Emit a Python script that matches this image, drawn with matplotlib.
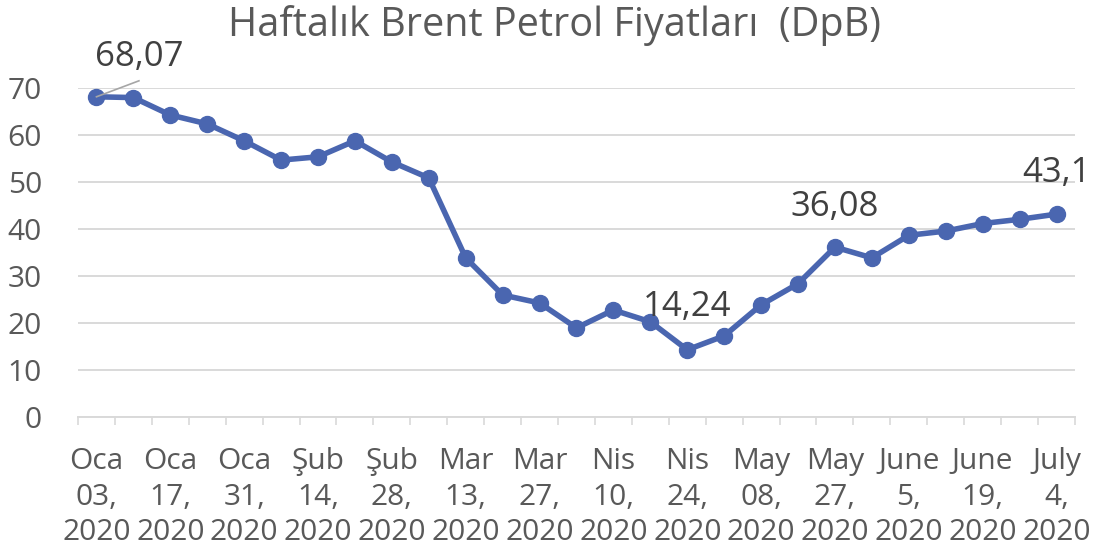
import matplotlib.pyplot as plt
import numpy as np

plt.rcParams['font.family'] = ['Open Sans', 'DejaVu Sans']

# weekly Brent prices (USD/barrel)
prices = [68.07, 67.9, 64.2, 62.3, 58.7, 54.6, 55.3, 58.7, 54.2, 50.8,
          33.8, 25.9, 24.2, 18.9, 22.7, 20.2, 14.24, 17.2, 23.8, 28.3,
          36.08, 33.8, 38.6, 39.5, 41.1, 42.0, 43.1]
shown_labels = ['Oca\n03,\n2020', 'Oca\n17,\n2020', 'Oca\n31,\n2020', 'Şub\n14,\n2020',
                'Şub\n28,\n2020', 'Mar\n13,\n2020', 'Mar\n27,\n2020', 'Nis\n10,\n2020',
                'Nis\n24,\n2020', 'May\n08,\n2020', 'May\n27,\n2020', 'June\n5,\n2020',
                'June\n19,\n2020', 'July\n4,\n2020']
labelled = {0: '68,07', 16: '14,24', 20: '36,08', 26: '43,1'}

grey = '#595959'
blue = '#4A66B0'
x = np.arange(len(prices))

fig = plt.figure(figsize=(10.94, 5.58), dpi=100)
ax = fig.add_axes([0.0713, 0.2532, 0.9113, 0.5896])

ax.plot(x, prices, color=blue, lw=4, marker='o', ms=11.5, zorder=3, clip_on=False)

ax.set_xlim(-0.5, len(prices) - 0.5)
ax.set_ylim(0, 70)
ax.set_yticks(range(0, 71, 10))
ax.grid(axis='y', color='#D9D9D9', lw=1.4)
ax.set_axisbelow(True)
for s in ['top', 'right', 'left']:
    ax.spines[s].set_visible(False)
ax.spines['bottom'].set_color('#D9D9D9')
ax.spines['bottom'].set_linewidth(1.4)

ax.set_xticks(x[::2])
ax.set_xticklabels(shown_labels, linespacing=1.3)
ax.set_xticks(np.arange(-0.5, len(prices)), minor=True)
ax.tick_params(axis='x', which='major', length=0, pad=22, labelsize=21.5, labelcolor=grey)
ax.tick_params(axis='x', which='minor', length=6, width=1.2, color='#D9D9D9')
ax.tick_params(axis='y', length=0, pad=26, labelsize=21.5, labelcolor=grey)

# data labels
offsets = {0: (1.15, 8.5), 16: (0, 9.0), 20: (0, 8.5), 26: (0, 8.8)}
for i, txt in labelled.items():
    dx, dy = offsets[i]
    ax.text(x[i] + dx, prices[i] + dy, txt, ha='center', va='center',
            fontsize=25, color='#404040', clip_on=False, zorder=4)
ax.plot([x[0], x[0] + 1.15], [prices[0], prices[0] + 3.4], color='#A6A6A6',
        lw=1.2, clip_on=False, zorder=4)

fig.text(0.507, 0.955, 'Haftalık Brent Petrol Fiyatları  (DpB)', ha='center', va='center',
         fontsize=28.5, color=grey)

fig.savefig('out.png', dpi=100)
